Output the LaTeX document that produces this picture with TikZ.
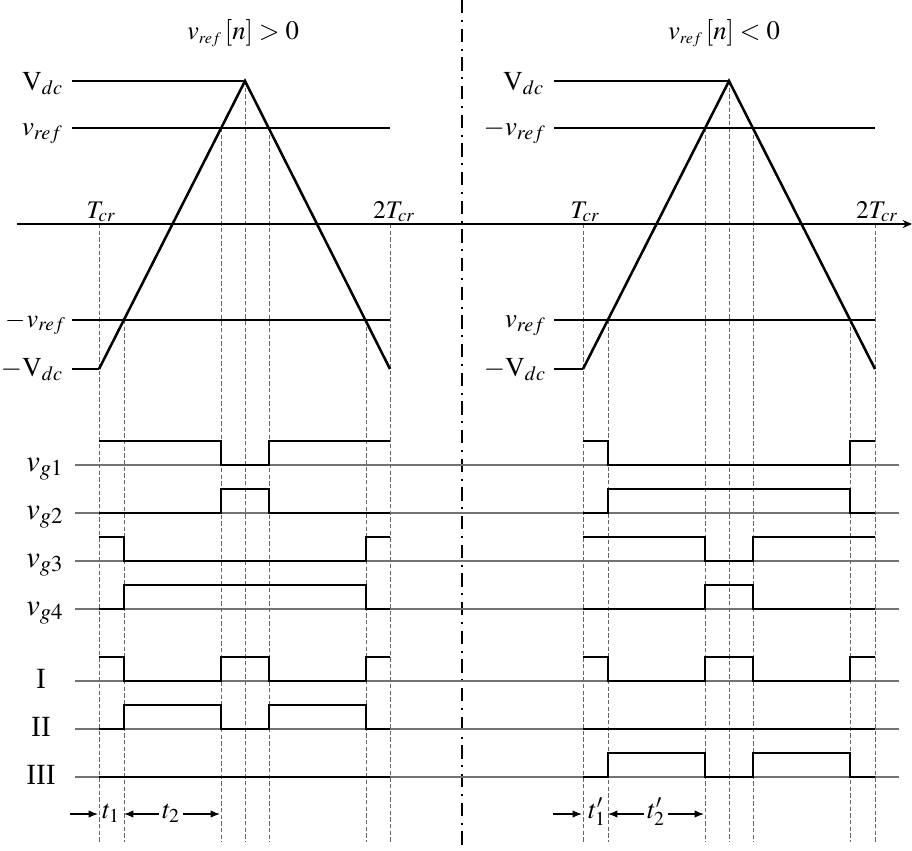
\documentclass[tikz,border=0pt]{standalone}
\usepackage{mathptmx}
\usepackage[no-math]{fontspec}
\setmainfont{Liberation Serif}
\usetikzlibrary{arrows.meta}
\begin{document}
\begin{tikzpicture}[x=0.75pt,y=-0.75pt,
  sig/.style={line width=1.9pt, line join=miter},
  base/.style={line width=0.8pt, black!55},
  guide/.style={line width=0.7pt, black!60, dash pattern=on 3.2pt off 1.8pt},
  level/.style={line width=1.5pt},
  tri/.style={line width=1.9pt, line join=miter},
  axisline/.style={line width=1.1pt, -{Stealth[length=7pt,width=6pt]}},
  divider/.style={line width=1.7pt, dash pattern=on 10pt off 5pt on 1.5pt off 5pt},
  dimarrow/.style={line width=0.9pt, -{Latex[length=7pt,width=5.5pt]}},
  lvl/.style={inner sep=0pt, font=\fontsize{20.5}{24}\selectfont},
  sigl/.style={inner sep=0pt, font=\fontsize{23}{26}\selectfont},
  rom/.style={inner sep=0pt, font=\fontsize{22}{26}\selectfont},
  tlab/.style={inner sep=0pt, font=\fontsize{19}{22}\selectfont},
  ttl/.style={inner sep=0pt, font=\fontsize{20}{24}\selectfont},
  dim/.style={inner sep=0pt, font=\fontsize{20}{24}\selectfont}
]
\useasboundingbox (0,0) rectangle (912,850);

% divider
\draw[divider] (462,0) -- (462,850);

% titles
\node[ttl, anchor=base] (titleL) at (243,39) {$v_{\scriptscriptstyle ref}\,[n] > 0$};
\node[ttl, anchor=base] (titleR) at (724,39) {$v_{\scriptscriptstyle ref}\,[n] < 0$};

% baselines of the signal rows
\foreach \yy in {465,513,561,609,681,729,777}
  \draw[base] (75,\yy) -- (899,\yy);

% guide lines (left)
\draw[guide] (99,224) -- (99,842);
\draw[guide] (124,320) -- (124,842);
\draw[guide] (221,128) -- (221,842);
\draw[guide] (245,81) -- (245,842);
\draw[guide] (269,128) -- (269,842);
\draw[guide] (366,320) -- (366,842);
\draw[guide] (390,224) -- (390,842);
% guide lines (right)
\draw[guide] (583,224) -- (583,842);
\draw[guide] (608,320) -- (608,842);
\draw[guide] (705,128) -- (705,842);
\draw[guide] (729,81) -- (729,842);
\draw[guide] (753,128) -- (753,842);
\draw[guide] (850,320) -- (850,842);
\draw[guide] (875,224) -- (875,842);

% time axis
\draw[axisline] (17,224) -- (912,224);

% level lines (left)
\draw[level] (72,81) -- (245,81);
\draw[level] (72,128) -- (390,128);
\draw[level] (72,320) -- (390,320);
\draw[level] (72,369) -- (99,369);
% level lines (right)
\draw[level] (554,81) -- (729,81);
\draw[level] (554,128) -- (875,128);
\draw[level] (554,320) -- (875,320);
\draw[level] (554,369) -- (583,369);

% carriers
\draw[tri] (99,369) -- (245,81) -- (390,369);
\draw[tri] (583,369) -- (729,81) -- (875,369);

% level labels
\node[lvl, anchor=base east] (vdcL) at (63,90) {$\mathrm{V}_{dc}$};
\node[lvl, anchor=base east] (vrefL) at (63,135) {$v_{ref}$};
\node[lvl, anchor=base east, font=\fontsize{19.5}{22}\selectfont] (mvrefL) at (66,327) {$-\mkern1mu v_{ref}$};
\node[lvl, anchor=base east] (mvdcL) at (63,376) {$-\mathrm{V}_{dc}$};
\node[lvl, anchor=base east] (vdcR) at (544,90) {$\mathrm{V}_{dc}$};
\node[lvl, anchor=base east] (mvrefR) at (546,135) {$-v_{ref}$};
\node[lvl, anchor=base east] (vrefR) at (546,327) {$v_{ref}$};
\node[lvl, anchor=base east] (mvdcR) at (546,376) {$-\mathrm{V}_{dc}$};

% time labels
\node[tlab, anchor=base] (tcrL) at (101,218) {$T_{cr}$};
\node[tlab, anchor=base] (ttcrL) at (394,218) {$2T_{cr}$};
\node[tlab, anchor=base] (tcrR) at (585,218) {$T_{cr}$};
\node[tlab, anchor=base] (ttcrR) at (877,218) {$2T_{cr}$};

% row labels
\node[sigl, anchor=base west] (g1) at (26,471) {$v_{g1}$};
\node[sigl, anchor=base west] (g2) at (26,519) {$v_{g2}$};
\node[sigl, anchor=base west] (g3) at (26,567) {$v_{g3}$};
\node[sigl, anchor=base west] (g4) at (26,615) {$v_{g4}$};
\node[rom, anchor=base] (r1) at (41,688) {I};
\node[rom, anchor=base] (r2) at (41,736) {II};
\node[rom, anchor=base] (r3) at (41,784) {III};

% signals (left)
\draw[sig] (99,441) -- (221,441) -- (221,465) -- (269,465) -- (269,441) -- (390,441);
\draw[sig] (99,513) -- (221,513) -- (221,489) -- (269,489) -- (269,513) -- (390,513);
\draw[sig] (99,537) -- (124,537) -- (124,561) -- (366,561) -- (366,537) -- (390,537);
\draw[sig] (99,609) -- (124,609) -- (124,585) -- (366,585) -- (366,609) -- (390,609);
\draw[sig] (99,657) -- (124,657) -- (124,681) -- (221,681) -- (221,657) -- (269,657) -- (269,681) -- (366,681) -- (366,657) -- (390,657);
\draw[sig] (99,729) -- (124,729) -- (124,705) -- (221,705) -- (221,729) -- (269,729) -- (269,705) -- (366,705) -- (366,729) -- (390,729);
\draw[sig] (99,777) -- (390,777);

% signals (right)
\draw[sig] (583,441) -- (608,441) -- (608,465) -- (850,465) -- (850,441) -- (875,441);
\draw[sig] (583,513) -- (608,513) -- (608,489) -- (850,489) -- (850,513) -- (875,513);
\draw[sig] (583,537) -- (705,537) -- (705,561) -- (753,561) -- (753,537) -- (875,537);
\draw[sig] (583,609) -- (705,609) -- (705,585) -- (753,585) -- (753,609) -- (875,609);
\draw[sig] (583,657) -- (608,657) -- (608,681) -- (705,681) -- (705,657) -- (753,657) -- (753,681) -- (850,681) -- (850,657) -- (875,657);
\draw[sig] (583,729) -- (875,729);
\draw[sig] (583,777) -- (608,777) -- (608,753) -- (705,753) -- (705,777) -- (753,777) -- (753,753) -- (850,753) -- (850,777) -- (875,777);

% interval marks (left)
\node[dim, anchor=base] (t1) at (111,818) {$t_1$};
\node[dim, anchor=base] (t2) at (171,818) {$t_2$};
\coordinate (aL0) at (70,814);
\coordinate (aL1) at (98,814);
\coordinate (aL2) at (124,814);
\coordinate (aL3) at (220,814);
\draw[dimarrow] (aL0) -- (aL1);
\draw[dimarrow] (t2.west |- aL2) ++(-3,0) -- (aL2);
\draw[dimarrow] (t2.east |- aL3) ++(3,0) -- (aL3);

% interval marks (right)
\node[dim, anchor=base] (t1p) at (597,818) {$t'_1$};
\node[dim, anchor=base] (t2p) at (656,818) {$t'_2$};
\coordinate (aR0) at (553,814);
\coordinate (aR1) at (582,814);
\coordinate (aR2) at (608,814);
\coordinate (aR3) at (704,814);
\draw[dimarrow] (aR0) -- (aR1);
\draw[dimarrow] (t2p.west |- aR2) ++(-3,0) -- (aR2);
\draw[dimarrow] (t2p.east |- aR3) ++(3,0) -- (aR3);
\end{tikzpicture}
\end{document}
